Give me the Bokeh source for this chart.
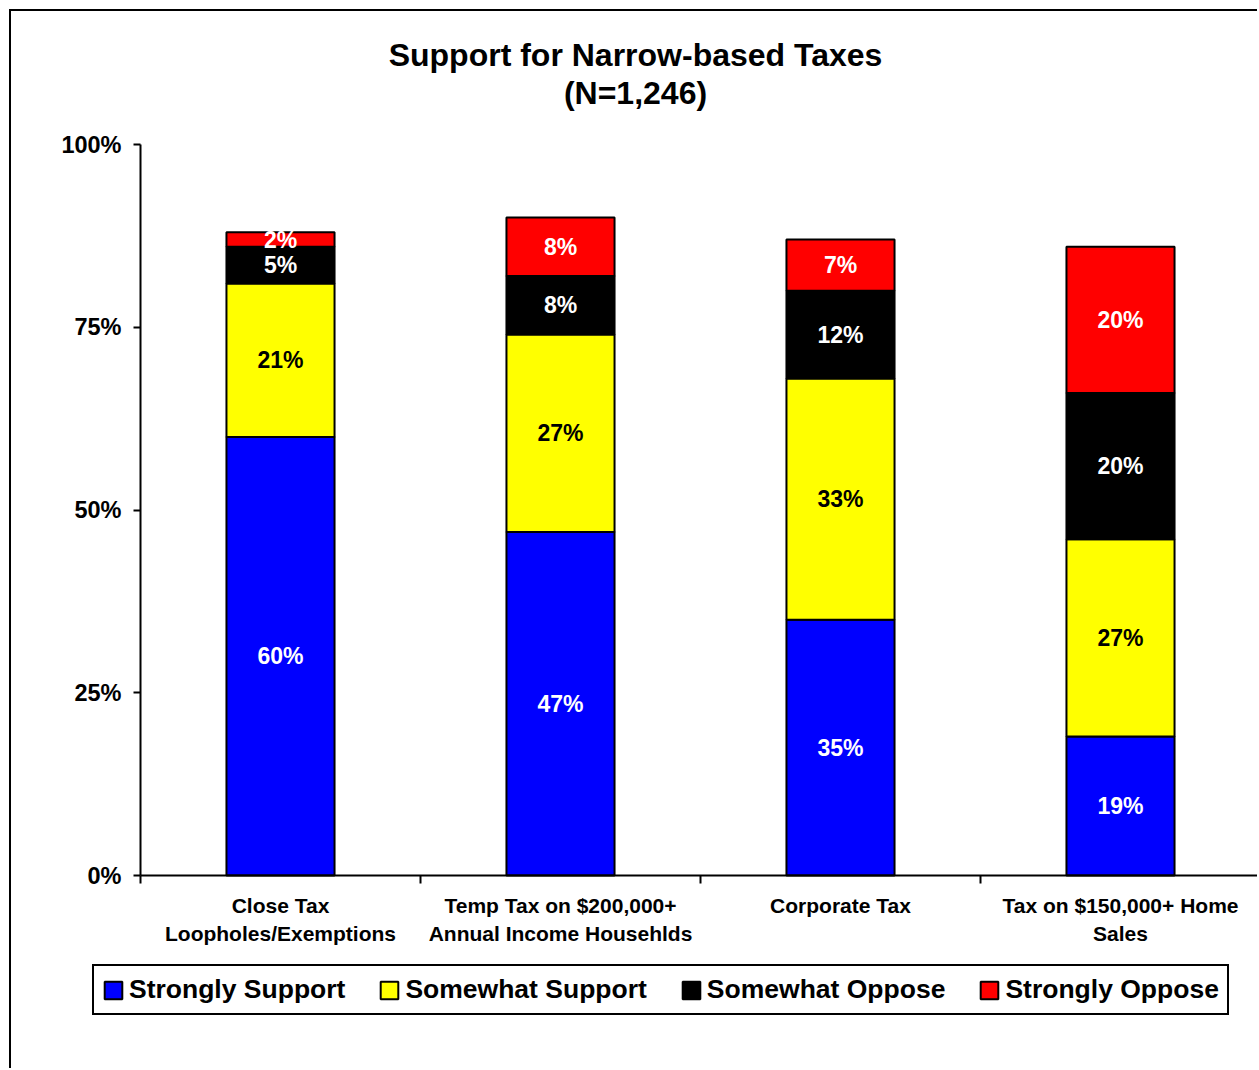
import numpy as np
from bokeh.plotting import figure
from bokeh.models import (ColumnDataSource, Range1d, FixedTicker, PrintfTickFormatter,
                          Legend, LegendItem, Label)
from bokeh.core.properties import value
from bokeh.embed import file_html
from bokeh.resources import INLINE

# ---- data ----
categories = ["Close Tax\nLoopholes/Exemptions",
              "Temp Tax on $200,000+\nAnnual Income Househlds",
              "Corporate Tax",
              "Tax on $150,000+ Home\nSales"]
series = ["Strongly Support", "Somewhat Support", "Somewhat Oppose", "Strongly Oppose"]
strongly_support = [60, 47, 35, 19]
somewhat_support = [21, 27, 33, 27]
somewhat_oppose = [5, 8, 12, 20]
strongly_oppose = [2, 8, 7, 20]
y_ticks = [0, 25, 50, 75, 100]
title_lines = ["Support for Narrow-based Taxes", "(N=1,246)"]

colors = ["#0000FF", "#FFFF00", "#000000", "#FF0000"]
label_colors = ["#FFFFFF", "#000000", "#FFFFFF", "#FFFFFF"]
FONT = "Liberation Sans"

values = [strongly_support, somewhat_support, somewhat_oppose, strongly_oppose]
n = len(categories)
xs = np.arange(n) + 0.5
data = {"x": xs}
for s, v in zip(series, values):
    data[s] = v
source = ColumnDataSource(data)

# ---- layout geometry (pixels) ----
OFF = 11                    # figure offset inside the page (border)
W, H = 1259 - OFF, 1070 - OFF
AX_LEFT, AX_RIGHT = 140, 1260     # page px of category 0 .. n
Y0_PX, Y100_PX = 875, 144         # page px of 0% and 100%
px_per_x = (AX_RIGHT - AX_LEFT) / n
px_per_y = (Y0_PX - Y100_PX) / 100.0
x_start = -(AX_LEFT - OFF) / px_per_x
x_end = (1259 - AX_LEFT) / px_per_x
y_start = -(1070 - Y0_PX) / px_per_y
y_end = 100 + (Y100_PX - OFF) / px_per_y

p = figure(width=W, height=H, output_backend="svg", toolbar_location=None,
           x_range=Range1d(x_start, x_end), y_range=Range1d(y_start, y_end),
           min_border=0, min_border_left=0, min_border_right=0,
           min_border_top=0, min_border_bottom=0,
           background_fill_color="white", border_fill_color="white")
p.margin = (9, 0, 0, 9)
p.styles = {"border-left": "2px solid black", "border-top": "2px solid black"}
p.outline_line_color = None
p.grid.grid_line_color = None

renderers = p.vbar_stack(series, x="x", width=0.386, source=source,
                         fill_color=colors, line_color="black", line_width=2)

# data labels
bottom = np.zeros(n)
for v, tc in zip(values, label_colors):
    v = np.array(v, dtype=float)
    mids = bottom + v / 2
    p.text(x=xs, y=mids, text=[f"{int(a)}%" for a in v], text_color=tc,
           text_font=value(FONT), text_font_style="bold", text_font_size="23px",
           text_align="center", text_baseline="middle")
    bottom = bottom + v

# axes (fixed at the data origin, inside the frame)
xa = p.xaxis[0]
xa.fixed_location = 0
xa.bounds = (0, n)
xa.ticker = FixedTicker(ticks=list(xs), minor_ticks=list(range(n + 1)))
xa.major_label_overrides = {float(x): c for x, c in zip(xs, categories)}
xa.major_tick_line_color = None
xa.major_tick_in = 0
xa.major_tick_out = 8
xa.minor_tick_in = 0
xa.minor_tick_out = 8
xa.minor_tick_line_color = "black"
xa.minor_tick_line_width = 2
xa.axis_line_width = 2
xa.axis_line_color = "black"
xa.major_label_standoff = 10
xa.major_label_text_font = FONT
xa.major_label_text_font_style = "bold"
xa.major_label_text_font_size = "21px"
xa.major_label_text_color = "black"
xa.major_label_text_line_height = 1.25

ya = p.yaxis[0]
ya.fixed_location = 0
ya.bounds = (0, 100)
ya.ticker = FixedTicker(ticks=y_ticks)
ya.formatter = PrintfTickFormatter(format="%d%%")
ya.minor_tick_line_color = None
ya.major_tick_in = 0
ya.major_tick_out = 7
ya.major_tick_line_width = 2
ya.axis_line_width = 2
ya.axis_line_color = "black"
ya.major_label_standoff = 12
ya.major_label_text_font = FONT
ya.major_label_text_font_style = "bold"
ya.major_label_text_font_size = "23.5px"
ya.major_label_text_color = "black"

# title: two centred lines (screen units from the frame's bottom-left)
for txt, ypx in zip(title_lines, [54, 92]):
    p.add_layout(Label(x=635 - OFF, y=1070 - ypx, x_units="screen", y_units="screen",
                       text=txt, text_font=FONT, text_font_style="bold",
                       text_font_size="32px", text_align="center",
                       text_baseline="middle", text_color="black"))

# legend
legend = Legend(items=[LegendItem(label=s, renderers=[r]) for s, r in zip(series, renderers)],
                orientation="horizontal", location=(92 - OFF, 1070 - 1015))
legend.label_text_font = FONT
legend.label_text_font_style = "bold"
legend.label_text_font_size = "26.5px"
legend.label_text_color = "black"
legend.label_height = 18
legend.glyph_width = 22
legend.glyph_height = 22
legend.label_standoff = 5
legend.spacing = 33
legend.padding = 8
legend.margin = 0
legend.border_line_color = "black"
legend.border_line_alpha = 1.0
legend.border_line_width = 2
legend.background_fill_color = "white"
legend.background_fill_alpha = 1.0
p.add_layout(legend, "center")

open("out.html", "w").write(file_html(p, INLINE))
